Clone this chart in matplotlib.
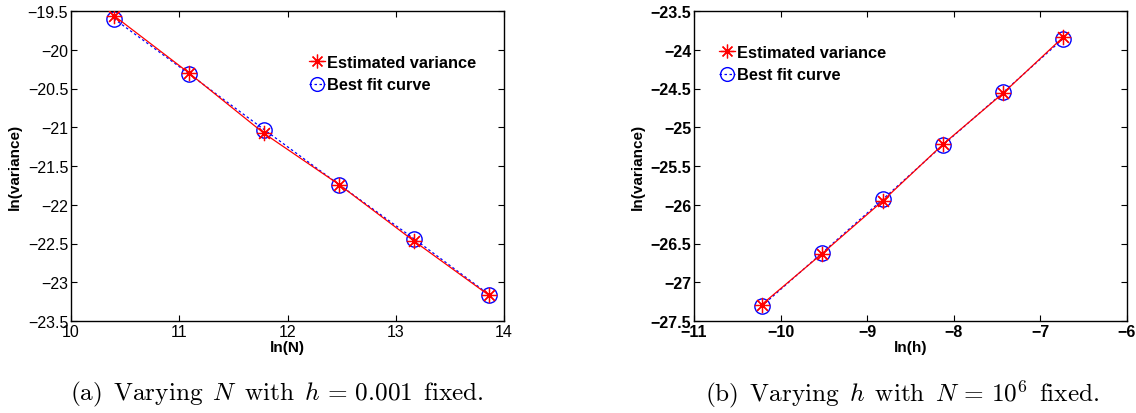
import matplotlib
matplotlib.use("Agg")
import matplotlib.pyplot as plt
import numpy as np

# ---- data ----
lnN = [10.397, 11.090, 11.784, 12.477, 13.170, 13.863]
est_a = [-19.56, -20.30, -21.08, -21.74, -22.47, -23.17]
fit_a = [-19.60, -20.31, -21.03, -21.74, -22.44, -23.16]

lnh = [-10.22, -9.52, -8.82, -8.125, -7.43, -6.74]
est_b = [-27.29, -26.63, -25.95, -25.22, -24.56, -23.84]
fit_b = [-27.31, -26.62, -25.93, -25.23, -24.55, -23.86]

xticks_a = [10, 11, 12, 13, 14]
yticks_a = [-23.5, -23, -22.5, -22, -21.5, -21, -20.5, -20, -19.5]
xticks_b = [-11, -10, -9, -8, -7, -6]
yticks_b = [-27.5, -27, -26.5, -26, -25.5, -25, -24.5, -24, -23.5]

plt.rcParams['font.family'] = ['Liberation Sans', 'DejaVu Sans']
plt.rcParams['mathtext.fontset'] = 'cm'

fig = plt.figure(figsize=(11.36, 4.14), dpi=100)
W, H = 1136, 414

def fmt(v):
    s = ('%g' % v)
    return s.replace('-', '\u2212')

def make_ax(x0, x1, xdata, est, fit, xt, yt, xlab, bold_ticks, leg_xy):
    ax = fig.add_axes([x0 / W, 1 - 322 / H, (x1 - x0) / W, 310 / H])
    ax.plot(xdata, fit, linestyle=(0, (2, 2)), color='blue', lw=0.9,
            marker='o', ms=11, mfc='none', mec='blue', mew=1.0,
            label='Best fit curve', zorder=2)
    ax.plot(xdata, est, linestyle='-', color='red', lw=0.9,
            marker=(8, 2, 0), ms=11, mec='red', mew=0.9,
            label='Estimated variance', zorder=3)
    ax.set_xlim(xt[0], xt[-1])
    ax.set_ylim(yt[0], yt[-1])
    ax.set_xticks(xt)
    ax.set_yticks(yt)
    w = 'bold' if bold_ticks else 'normal'
    ax.set_xticklabels([fmt(v) for v in xt], fontsize=11.5, fontweight=w)
    ax.set_yticklabels([fmt(v) for v in yt], fontsize=11.5, fontweight=w)
    ax.tick_params(direction='in', top=True, right=True, length=4, width=0.8, pad=2)
    for s in ax.spines.values():
        s.set_linewidth(1.0)
    ax.set_xlabel(xlab, fontsize=11, fontweight='bold', labelpad=1)
    ax.set_ylabel('ln(variance)', fontsize=11, fontweight='bold', labelpad=4)
    h, l = ax.get_legend_handles_labels()
    ax.legend([h[1], h[0]], [l[1], l[0]], loc='upper left', frameon=False,
              bbox_to_anchor=(leg_xy[0] / W, 1 - leg_xy[1] / H),
              bbox_transform=fig.transFigure,
              prop={'weight': 'bold', 'size': 11.8}, handlelength=1.0,
              handletextpad=0.1, labelspacing=0.45, borderpad=0, borderaxespad=0,
              markerscale=0.9)
    return ax

make_ax(71, 504, lnN, est_a, fit_a, xticks_a, yticks_a, 'ln(N)', False, (309, 56))
make_ax(694, 1127, lnh, est_b, fit_b, xticks_b, yticks_b, 'ln(h)', True, (719, 46))

fig.text(277 / W, 1 - 394 / H,
         r'$\mathrm{(a)\ \,Varying\ \,}N\mathrm{\ \,with\ \,}h\,=\,0.001\mathrm{\ \,fixed.}$',
         ha='center', va='center', fontsize=18.2)
fig.text(902 / W, 1 - 394 / H,
         r'$\mathrm{(b)\ \,Varying\ \,}h\mathrm{\ \,with\ \,}N\,=\,10^6\mathrm{\ \,fixed.}$',
         ha='center', va='center', fontsize=18.2)

fig.savefig('out.png', dpi=100)
